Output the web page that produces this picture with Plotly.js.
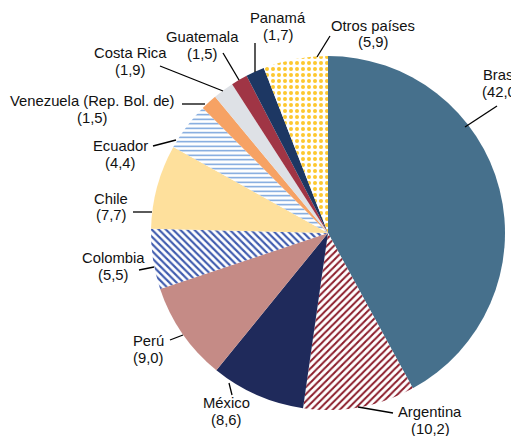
<!DOCTYPE html>
<html>
<head>
<meta charset="utf-8">
<script src="https://cdn.plot.ly/plotly-3.0.1.min.js"></script>
<style>html,body{margin:0;padding:0;background:#fff;}#chart{width:511px;height:436px;}</style>
</head>
<body>
<div id="chart"></div>
<script>
// Data
var countries = ["Brasil", "Argentina", "México", "Perú", "Colombia", "Chile", "Ecuador",
  "Venezuela (Rep. Bol. de)", "Costa Rica", "Guatemala", "Panamá", "Otros países"];
var shares = [42.0, 10.2, 8.6, 9.0, 5.5, 7.7, 4.4, 1.5, 1.9, 1.5, 1.7, 5.9];

// Styles
var fillColors = ["#46708c", "#8b1c2a", "#1f2a5b", "#c58b86", "#3f5bae", "#fee09c", "#6a9ad8",
  "#f6a264", "#dee1e6", "#a03545", "#1d3763", "#fdc82f"];
var patternShapes = ["", "/", "", "", "\\", "", "-", "", "", "", "", "."];
var patternSizes = [8, 5, 8, 8, 5, 8, 4.5, 8, 8, 8, 8, 6];
var patternSolid = [0.3, 0.4, 0.3, 0.3, 0.42, 0.3, 0.3, 0.3, 0.3, 0.3, 0.3, 0.35];
var bgColors = fillColors.map(function (c, i) { return patternShapes[i] ? "#ffffff" : c; });

// Label layout (pixel positions of label centers and leader lines)
var labelPos = [[501, 83.5], [430, 420], [226, 411.5], [148, 349.5], [113, 266.5], [111, 207], [120, 154.5],
  [92, 109.5], [130, 61.5], [202, 45.5], [278, 26.5], [373, 34]];
var lineGap = 17;
var leaders = [[465, 127, 497, 106], [358, 407, 393, 413], [232, 395, 229, 383], [183, 335, 170, 340],
  [154, 267, 139, 270], [152, 212, 133, 212], [176, 140, 153, 146], [205, 104, 182, 104],
  [223, 91, 160, 66], [239, 80, 223, 53], [255, 72, 255, 43], [317, 57, 330, 36]];

var W = 511, H = 436;
function px(x) { return x / W; }
function py(y) { return 1 - y / H; }

var fmt = function (v) { return "(" + v.toFixed(1).replace(".", ",") + ")"; };
var labelFont = {family: "Liberation Sans, Arial, sans-serif", size: 14.8, color: "#111111"};

var annotations = [];
countries.forEach(function (c, i) {
  var lines = [c, fmt(shares[i])];
  lines.forEach(function (t, k) {
    annotations.push({
      xref: "paper", yref: "paper",
      x: px(labelPos[i][0]), y: py(labelPos[i][1] + (k - 0.5) * lineGap),
      xanchor: "center", yanchor: "middle", showarrow: false, align: "center",
      text: t, font: labelFont
    });
  });
});

var shapes = leaders.map(function (l) {
  return {type: "line", xref: "paper", yref: "paper",
    x0: px(l[0]), y0: py(l[1]), x1: px(l[2]), y1: py(l[3]),
    line: {color: "#000000", width: 1.3}};
});

var trace = {
  type: "pie",
  labels: countries,
  values: shares,
  sort: false,
  direction: "clockwise",
  rotation: 0,
  textinfo: "none",
  hoverinfo: "label+value",
  showlegend: false,
  domain: {x: [151 / W, 505 / W], y: [(H - 410) / H, (H - 56) / H]},
  marker: {
    colors: bgColors,
    line: {width: 0},
    pattern: {
      shape: patternShapes,
      fgcolor: fillColors,
      bgcolor: bgColors,
      size: patternSizes,
      solidity: patternSolid,
      fillmode: "replace"
    }
  }
};

var layout = {
  width: W, height: H,
  margin: {l: 0, r: 0, t: 0, b: 0},
  paper_bgcolor: "#ffffff",
  plot_bgcolor: "#ffffff",
  annotations: annotations,
  shapes: shapes
};

Plotly.newPlot("chart", [trace], layout, {displayModeBar: false, staticPlot: true});
</script>
</body>
</html>
